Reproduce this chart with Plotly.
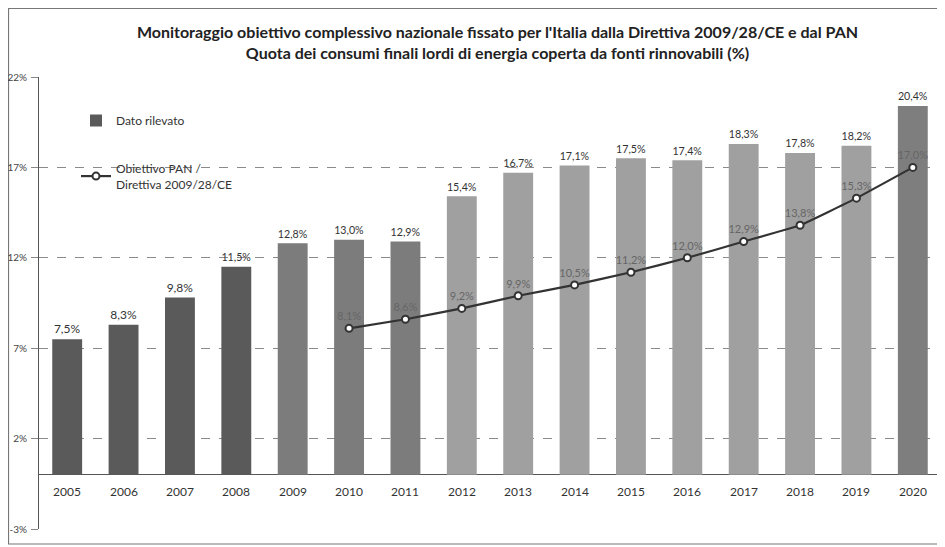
import plotly.graph_objects as go

years = ["2005", "2006", "2007", "2008", "2009", "2010", "2011", "2012",
         "2013", "2014", "2015", "2016", "2017", "2018", "2019", "2020"]
dato_rilevato = [7.5, 8.3, 9.8, 11.5, 12.8, 13.0, 12.9, 15.4,
                 16.7, 17.1, 17.5, 17.4, 18.3, 17.8, 18.2, 20.4]
pan_years = ["2010", "2011", "2012", "2013", "2014", "2015",
             "2016", "2017", "2018", "2019", "2020"]
obiettivo_pan = [8.1, 8.6, 9.2, 9.9, 10.5, 11.2, 12.0, 12.9, 13.8, 15.3, 17.0]
y_ticks = [-3, 2, 7, 12, 17, 22]

bar_colors = (["#5a5a5a"] * 4 + ["#7c7c7c"] * 3 + ["#a0a0a0"] * 8 + ["#7e7e7e"])

def fmt(v):
    return f"{v:.1f}".replace(".", ",") + "%"

font_family = "Lato, 'Open Sans', sans-serif"

fig = go.Figure()
fig.add_trace(go.Bar(
    x=years, y=dato_rilevato, name="Dato rilevato",
    marker=dict(color=bar_colors, line=dict(width=0)),
    text=[fmt(v) for v in dato_rilevato], textposition="outside",
    textfont=dict(size=12, color="#333333"), cliponaxis=False,
    legendgroup="a",
))
fig.add_trace(go.Scatter(
    x=pan_years, y=obiettivo_pan, name="Obiettivo PAN /<br>Direttiva 2009/28/CE",
    mode="lines+markers+text",
    line=dict(color="#333333", width=2.2, shape="spline", smoothing=0.3),
    marker=dict(symbol="circle", size=7, color="white",
                line=dict(color="#333333", width=2)),
    text=[fmt(v) for v in obiettivo_pan], textposition="top center",
    textfont=dict(size=11, color="#666666"),
    legendgroup="b", cliponaxis=False,
))

for i, yr in enumerate(years):
    fig.add_annotation(x=i, y=0, xref="x", yref="y", text=yr,
                       showarrow=False, yanchor="top", yshift=-7,
                       font=dict(size=12, color="#333333", family=font_family))

# outer border (figure pixel coords converted to paper coords)
x0p, wp = 31, 902
y0p, hp = 521, 452
fig.add_shape(type="rect", xref="paper", yref="paper",
              x0=(0.5 - x0p) / wp, x1=(934 - x0p) / wp,
              y0=(y0p - 536) / hp, y1=(y0p - 0.5) / hp,
              line=dict(color="#777777", width=1.2), fillcolor="rgba(0,0,0,0)",
              layer="below")

fig.update_layout(
    width=945, height=547,
    margin=dict(l=31, r=12, t=69, b=26),
    paper_bgcolor="white", plot_bgcolor="white",
    font=dict(family=font_family, color="#333333"),
    title=dict(
        text="<b>Monitoraggio obiettivo complessivo nazionale fissato per l'Italia dalla Direttiva 2009/28/CE e dal PAN<br>Quota dei consumi finali lordi di energia coperta da fonti rinnovabili (%)</b>",
        x=0.518, xanchor="center", y=0.945, yanchor="top",
        font=dict(size=16, color="#222222", family=font_family),
    ),
    bargap=0.47,
    showlegend=True,
    legend=dict(x=(68 - x0p) / wp, y=(y0p - 98) / hp, xanchor="left", yanchor="top",
                bgcolor="rgba(0,0,0,0)", font=dict(size=12, color="#333333"),
                traceorder="grouped", tracegroupgap=29, itemwidth=30),
    xaxis=dict(type="category", categoryorder="array", categoryarray=years,
               range=[-0.5, len(years) - 0.5], automargin=False,
               showticklabels=False, showgrid=False, showline=False, ticks=""),
    yaxis=dict(range=[-3, 22], tickvals=y_ticks, ticktext=[f"{v}%" for v in y_ticks],
               tickfont=dict(size=10, color="#444444"), automargin=False,
               showgrid=True, gridcolor="#8a8a8a", griddash="dash", gridwidth=1,
               showline=True, linecolor="#555555", linewidth=1,
               zeroline=True, zerolinecolor="#555555", zerolinewidth=1.2,
               ticks="outside", ticklen=7, tickcolor="#888888",
               ticklabelstandoff=2),
)

fig.write_html("out.html")
